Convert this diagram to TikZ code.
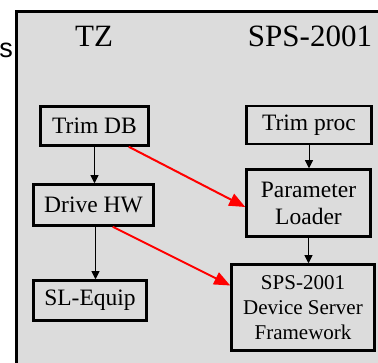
\documentclass[tikz,border=0pt]{standalone}
\usepackage{fontspec}
\setmainfont{Liberation Serif}
\newfontfamily\cutsans{Liberation Sans}
\usetikzlibrary{arrows.meta}
\definecolor{panelgray}{RGB}{220,220,220}
\definecolor{linkred}{RGB}{255,0,0}

\begin{document}
\begin{tikzpicture}[x=1pt, y=-1pt,
  box/.style={draw, line width=2.5pt, fill=panelgray, align=center, inner sep=0pt,
    font=\fontsize{23.5}{27}\selectfont},
  flow/.style={-{Triangle[length=8pt,width=8pt]}, line width=0.8pt},
  link/.style={-{Triangle[length=16pt,width=13pt]}, line width=2pt, linkred}]
  \useasboundingbox (0,0) rectangle (378,363);
  % Panel (runs past the right and bottom edges)
  \draw[line width=3pt, fill=panelgray] (16,12) rectangle (400,400);
  \node[font=\cutsans\fontsize{27}{30}\selectfont, anchor=east, inner sep=0pt] (cut) at (13,50) {s};

  % Column headers
  \node[font=\fontsize{31}{36}\selectfont] (tz) at (94,36) {TZ};
  \node[font=\fontsize{31}{36}\selectfont] (sps) at (310,36) {SPS-2001};

  % TZ side
  \node[box, minimum width=108pt, minimum height=39pt] (trimdb) at (94.5,126) {Trim DB};
  \node[box, minimum width=120pt, minimum height=41pt] (drivehw) at (93.5,205) {Drive HW};
  \node[box, minimum width=113pt, minimum height=40pt] (slequip) at (90,300.5) {SL-Equip};

  % SPS-2001 side
  \node[box, minimum width=125pt, minimum height=38pt] (trimproc) at (309,125) {Trim proc};
  \node[box, minimum width=124pt, minimum height=67pt] (loader) at (308.5,203) {Parameter\\Loader};
  \node[box, minimum width=143pt, minimum height=86pt, font=\fontsize{21}{25}\selectfont]
    (dsf) at (303,307.5) {SPS-2001\\Device Server\\Framework};

  % Flows
  \draw[flow] (trimdb.south) -- (trimdb.south |- drivehw.north);
  \draw[flow] ([xshift=2pt]drivehw.south) -- ([xshift=2pt]drivehw.south |- slequip.north);
  \draw[flow] (trimproc.south) -- (trimproc.south |- loader.north);
  \draw[flow] (loader.south) -- (loader.south |- dsf.north);

  % Cross links
  \draw[link] ([xshift=-21pt]trimdb.south east) -- ([yshift=-4pt]loader.west);
  \draw[link] ([xshift=-42pt]drivehw.south east) -- ([yshift=22pt]dsf.west);
\end{tikzpicture}
\end{document}
